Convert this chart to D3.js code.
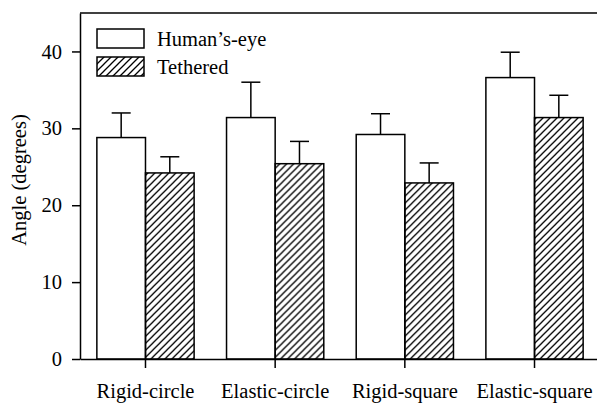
<!DOCTYPE html>
<html>
<head>
<meta charset="utf-8">
<script src="https://cdn.jsdelivr.net/npm/d3@7"></script>
<style>
	body { margin: 0; background: #fff; }
</style>
</head>
<body>
<div id="chart"></div>
<script>
const categories = ['Rigid-circle', 'Elastic-circle', 'Rigid-square', 'Elastic-square']
const seriesNames = ['Human\u2019s-eye', 'Tethered']
const humanEye = [28.8, 31.4, 29.2, 36.6]
const humanEyeErr = [3.2, 4.6, 2.7, 3.3]
const tethered = [24.2, 25.4, 22.9, 31.4]
const tetheredErr = [2.1, 2.9, 2.6, 2.9]
const yTicks = [0, 10, 20, 30, 40]

;(() => {
	const width = 597
	const height = 403
	const fontSize = 20.5
	const font = '"Liberation Serif", "Times New Roman", Times, "DejaVu Serif", serif'

	const svg = d3.select('#chart')
		.append('svg')
		.attr('width', width)
		.attr('height', height)
		.style('font-family', font)

	svg.append('defs')
		.append('pattern')
		.attr('id', 'hatch')
		.attr('patternUnits', 'userSpaceOnUse')
		.attr('width', 7)
		.attr('height', 7)
		.append('path')
		.attr('d', 'M-1,1 l2,-2 M0,7 l7,-7 M6,8 l2,-2')
		.attr('stroke', '#000')
		.attr('stroke-width', 1.3)

	const rows = categories.map((c, i) => ({
		category: c,
		values: [
			{ series: seriesNames[0], value: humanEye[i], err: humanEyeErr[i] },
			{ series: seriesNames[1], value: tethered[i], err: tetheredErr[i] }
		]
	}))
	const fills = ['#fff', 'url(#hatch)']

	const x = d3.scaleBand()
		.domain(categories)
		.range([80, 600])
		.paddingInner(0.25)
		.paddingOuter(0.13)

	const xs = d3.scaleBand()
		.domain(seriesNames)
		.range([0, x.bandwidth()])

	const y = d3.scaleLinear()
		.domain([0, 45])
		.range([359, 13])

	// bars
	const groups = svg.append('g')
		.selectAll('g')
		.data(rows)
		.join('g')
		.attr('transform', (d) => `translate(${x(d.category)},0)`)

	groups.selectAll('rect')
		.data((d) => d.values)
		.join('rect')
		.attr('x', (d) => xs(d.series))
		.attr('width', xs.bandwidth())
		.attr('y', (d) => y(d.value))
		.attr('height', (d) => y(0) - y(d.value))
		.attr('fill', (_, i) => fills[i])
		.attr('stroke', '#000')
		.attr('stroke-width', 1.5)

	// error bars
	const errs = groups.selectAll('g.err')
		.data((d) => d.values)
		.join('g')
		.attr('class', 'err')
		.attr('stroke', '#000')
		.attr('stroke-width', 1.5)

	errs.append('line')
		.attr('x1', (d) => xs(d.series) + xs.bandwidth() / 2)
		.attr('x2', (d) => xs(d.series) + xs.bandwidth() / 2)
		.attr('y1', (d) => y(d.value))
		.attr('y2', (d) => y(d.value + d.err))

	errs.append('line')
		.attr('x1', (d) => xs(d.series) + xs.bandwidth() / 2 - 9.5)
		.attr('x2', (d) => xs(d.series) + xs.bandwidth() / 2 + 9.5)
		.attr('y1', (d) => y(d.value + d.err))
		.attr('y2', (d) => y(d.value + d.err))

	// axes
	const yAxis = svg.append('g')
		.attr('transform', `translate(${x.range()[0]},0)`)
		.call(d3.axisLeft(y).tickValues(yTicks).tickSize(8).tickSizeOuter(0).tickPadding(10))

	const xAxis = svg.append('g')
		.attr('transform', `translate(0,${y(0)})`)
		.call(d3.axisBottom(x).tickSize(9).tickSizeOuter(0).tickPadding(15))

	;[yAxis, xAxis].forEach((a) => {
		a.attr('font-family', font).attr('font-size', fontSize)
		a.selectAll('path, line').attr('stroke', '#000').attr('stroke-width', 1.5)
		a.selectAll('text').attr('fill', '#000')
	})

	// top frame line
	svg.append('line')
		.attr('x1', x.range()[0])
		.attr('x2', x.range()[1])
		.attr('y1', y.range()[1])
		.attr('y2', y.range()[1])
		.attr('stroke', '#000')
		.attr('stroke-width', 1.5)

	svg.append('text')
		.attr('transform', 'translate(26,180) rotate(-90)')
		.attr('text-anchor', 'middle')
		.attr('font-family', font)
		.attr('font-size', fontSize)
		.attr('fill', '#000')
		.text('Angle (degrees)')

	// legend
	const legend = svg.append('g')
		.selectAll('g')
		.data(seriesNames)
		.join('g')
		.attr('transform', (_, i) => `translate(97,${29 + i * 28})`)

	legend.append('rect')
		.attr('width', 47)
		.attr('height', 19)
		.attr('fill', (_, i) => fills[i])
		.attr('stroke', '#000')
		.attr('stroke-width', 1.5)

	legend.append('text')
		.attr('x', 60)
		.attr('y', 17)
		.attr('font-family', font)
		.attr('font-size', fontSize)
		.attr('fill', '#000')
		.text((d) => d)
})()
</script>
</body>
</html>
